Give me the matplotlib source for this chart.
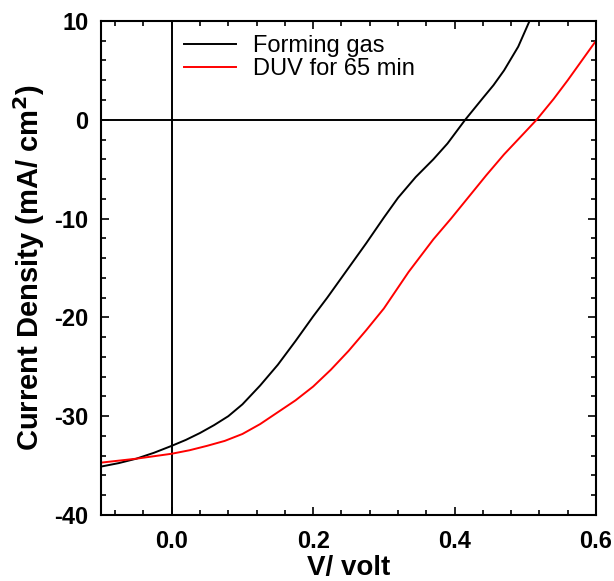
import matplotlib.pyplot as plt
from matplotlib.ticker import MultipleLocator

# Forming gas (black) J-V curve
v_forming = [-0.1, -0.075, -0.05, -0.025, 0.0, 0.02, 0.04, 0.06, 0.08, 0.1,
             0.125, 0.15, 0.175, 0.2, 0.22, 0.24, 0.26, 0.275, 0.3, 0.32,
             0.345, 0.37, 0.39, 0.415, 0.44, 0.455, 0.47, 0.49, 0.506]
j_forming = [-35.1, -34.75, -34.3, -33.7, -33.0, -32.4, -31.7, -30.9, -30.0, -28.8,
             -26.9, -24.8, -22.4, -19.9, -18.0, -16.0, -14.0, -12.5, -9.9, -7.9,
             -5.8, -4.0, -2.4, 0.0, 2.2, 3.5, 5.0, 7.4, 10.0]

# DUV for 65 min (red) J-V curve
v_duv = [-0.1, -0.075, -0.05, -0.025, 0.0, 0.025, 0.05, 0.075, 0.1, 0.125,
         0.15, 0.175, 0.2, 0.225, 0.25, 0.275, 0.3, 0.335, 0.37, 0.395,
         0.42, 0.445, 0.47, 0.495, 0.516, 0.54, 0.56, 0.58, 0.6]
j_duv = [-34.7, -34.5, -34.3, -34.05, -33.8, -33.45, -33.0, -32.5, -31.8, -30.8,
         -29.6, -28.4, -27.0, -25.3, -23.4, -21.3, -19.1, -15.4, -12.1, -10.0,
         -7.8, -5.6, -3.5, -1.6, 0.0, 2.1, 4.0, 6.0, 8.0]

labels = ['Forming gas', 'DUV for 65 min']

plt.rcParams['font.family'] = ['Liberation Sans', 'DejaVu Sans']
plt.rcParams['axes.unicode_minus'] = False

fig = plt.figure(figsize=(6.14, 5.81), dpi=100)
ax = fig.add_axes([0.1645, 0.1136, 0.8062, 0.8503])

ax.axhline(0, color='black', lw=1.4, zorder=1)
ax.axvline(0, color='black', lw=1.4, zorder=1)

ax.plot(v_forming, j_forming, color='black', lw=1.4, label=labels[0])
ax.plot(v_duv, j_duv, color='red', lw=1.4, label=labels[1])

ax.set_xlim(-0.1, 0.6)
ax.set_ylim(-40, 10)

ax.xaxis.set_major_locator(MultipleLocator(0.2))
ax.xaxis.set_minor_locator(MultipleLocator(0.04))
ax.yaxis.set_major_locator(MultipleLocator(10))
ax.yaxis.set_minor_locator(MultipleLocator(2))
ax.set_xticks([0.0, 0.2, 0.4, 0.6])

ax.tick_params(which='both', direction='in', top=True, right=True, width=1.2)
ax.tick_params(which='major', length=6)
ax.tick_params(which='minor', length=3.5)
ax.tick_params(axis='x', pad=11)
ax.tick_params(axis='y', pad=9)

for lbl in ax.get_xticklabels() + ax.get_yticklabels():
    lbl.set_fontsize(17)
    lbl.set_fontweight('bold')

for s in ax.spines.values():
    s.set_linewidth(1.5)

ax.set_xlabel('V/ volt', fontsize=20, fontweight='bold', labelpad=1)
ax.set_ylabel('Current Density (mA/ cm$^\\mathbf{2}$)', fontsize=21,
              fontweight='bold', labelpad=5)

ax.legend(loc='upper left', bbox_to_anchor=(0.168, 0.971), frameon=False,
          fontsize=17, handlelength=2.2, handletextpad=0.7, labelspacing=0.05,
          borderpad=0, borderaxespad=0)

fig.savefig('out.png', dpi=100)
